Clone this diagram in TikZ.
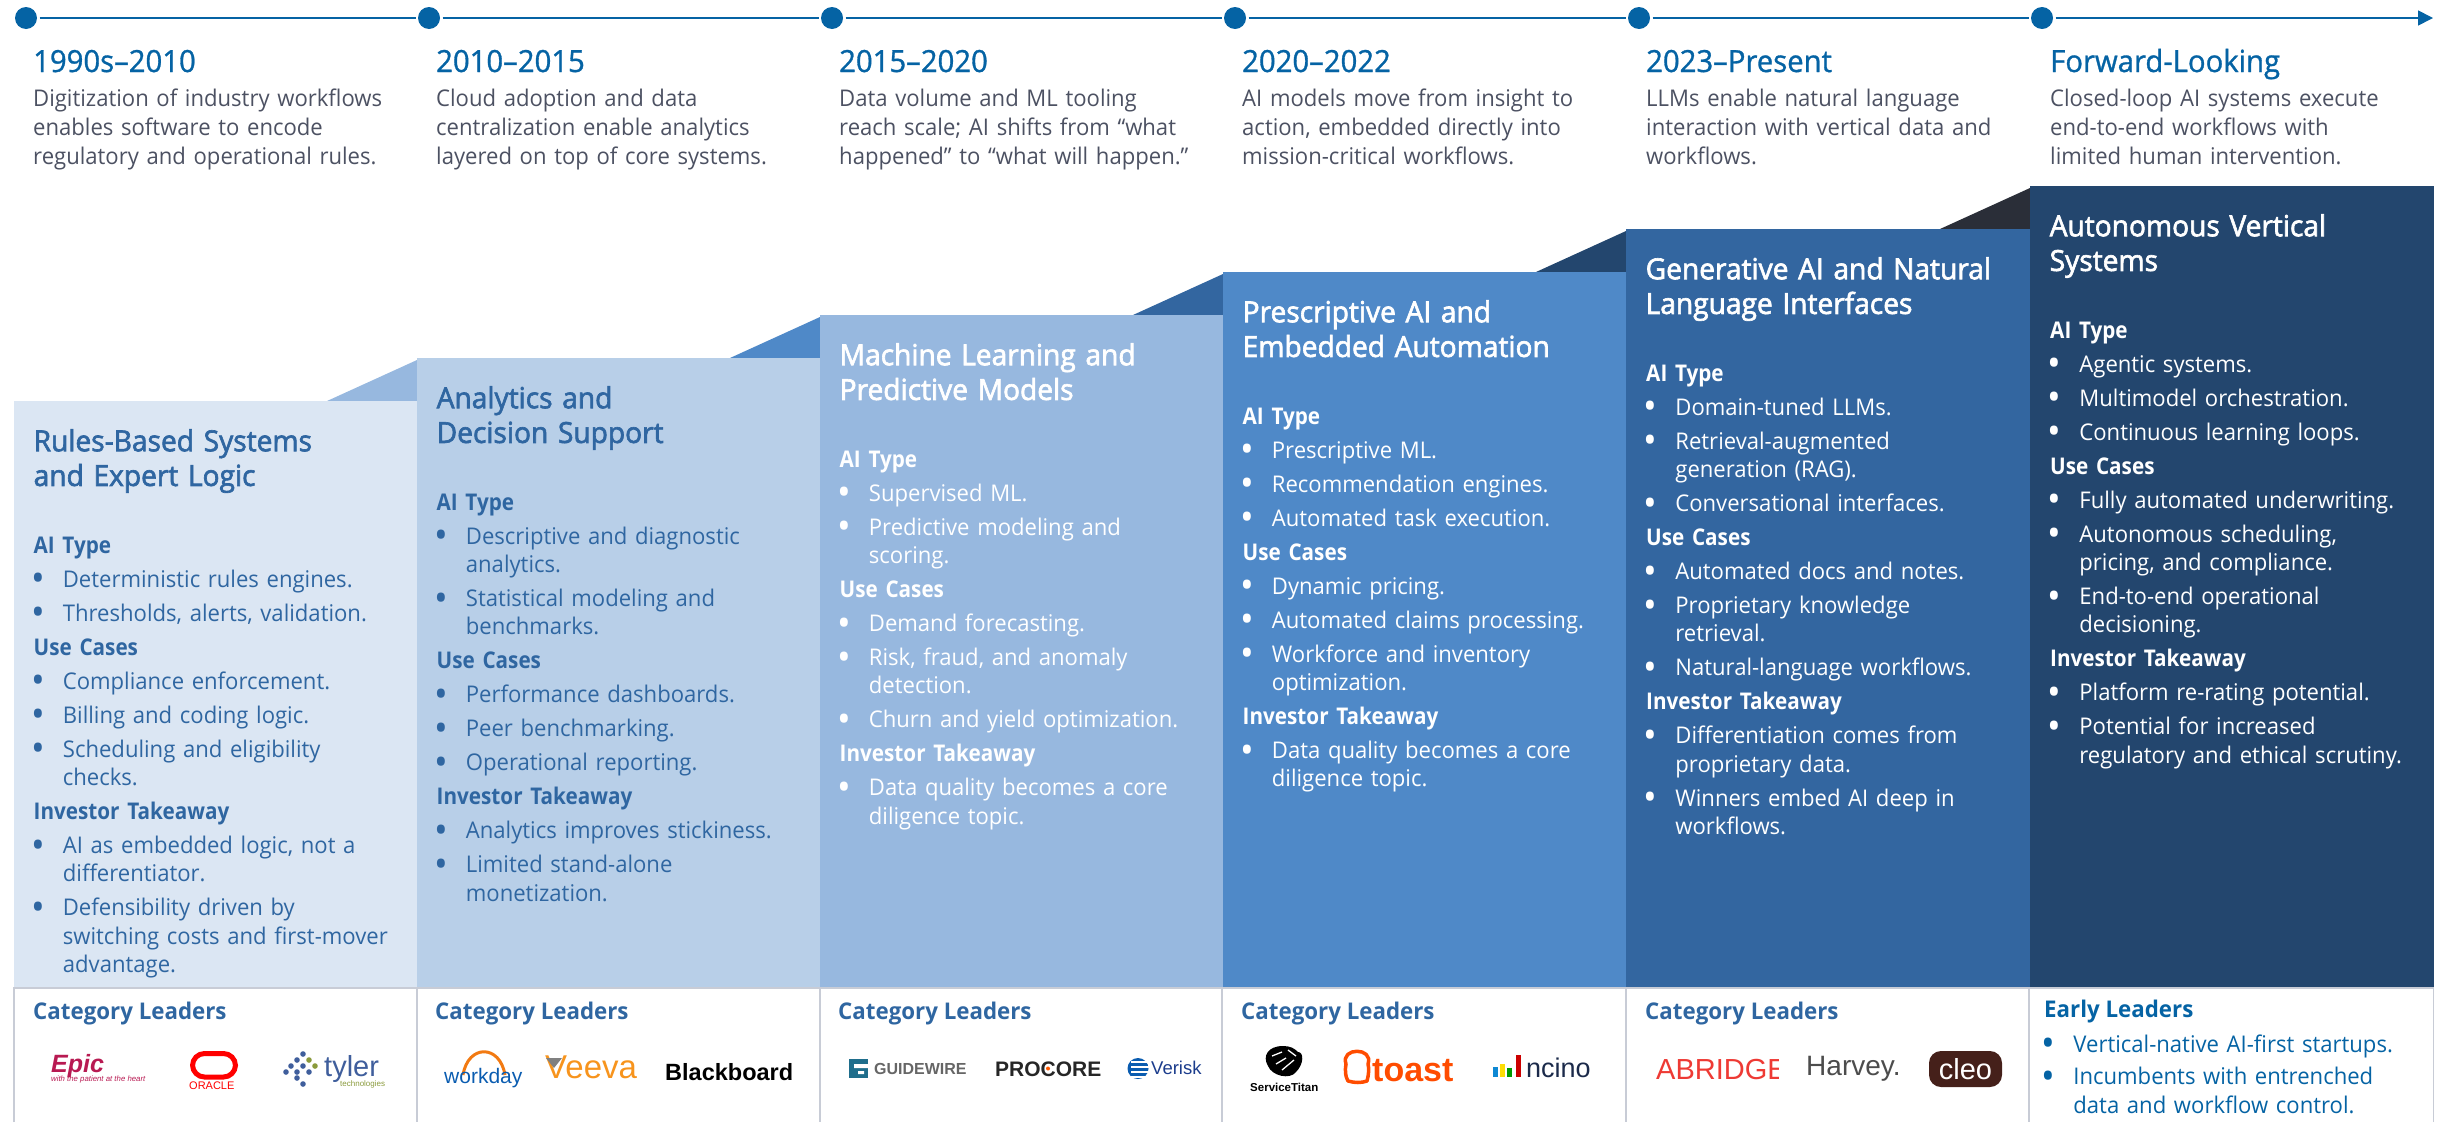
\documentclass[tikz,border=0pt]{standalone}
\usepackage{fontspec}
\usetikzlibrary{arrows.meta}
\setmainfont{Open Sans}[FakeStretch=0.96]
\newfontfamily\semif{Open Sans}[FakeStretch=0.9]
\newfontfamily\semig{Open Sans}[FakeStretch=0.97]
\newfontfamily\titlef{Open Sans}[FakeStretch=0.97,FakeBold=2.2]
\newfontfamily\periodf{Open Sans}[FakeStretch=0.96,FakeBold=1]
\newcommand\semi{\semif\bfseries}
\newfontfamily\lsans{Liberation Sans}
\definecolor{tl}{HTML}{0563A4}
\definecolor{grey}{HTML}{4C5162}
\definecolor{cA}{HTML}{DBE6F3}
\definecolor{cB}{HTML}{B8CFE8}
\definecolor{cC}{HTML}{97B8DF}
\definecolor{cD}{HTML}{4F89C8}
\definecolor{cE}{HTML}{3366A0}
\definecolor{cF}{HTML}{23466E}
\definecolor{cG}{HTML}{2A2E38}
\definecolor{ink}{HTML}{2F66A1}
\definecolor{rim}{HTML}{C8CCD6}
\definecolor{epicred}{HTML}{B81A52}
\definecolor{tylerblue}{HTML}{3F5E9C}
\definecolor{tylergreen}{HTML}{8A9A3C}
\definecolor{wdblue}{HTML}{0A5CB0}
\definecolor{wdorange}{HTML}{F27A12}
\definecolor{veeva}{HTML}{F7941D}
\definecolor{gwteal}{HTML}{1F6E8C}
\definecolor{veriskblue}{HTML}{1B3C8C}
\definecolor{toastor}{HTML}{FF4C00}
\definecolor{ncinoink}{HTML}{1B2A4A}
\definecolor{abr}{HTML}{EE3A34}
\definecolor{cleobg}{HTML}{45201A}
\tikzset{
  dot/.style={circle,fill=tl,minimum size=22pt,inner sep=0pt,outer sep=2.5pt},
  tline/.style={draw=tl,line width=1.6pt},
  period/.style={anchor=base west,inner sep=0pt,text=tl,font=\fontsize{30.5}{34}\selectfont\periodf},
  blurb/.style={anchor=north west,inner sep=0pt,text=grey,align=left,text width=390pt,font=\fontsize{23}{29}\selectfont},
  coltitle/.style={anchor=north west,inner sep=0pt,align=left,text width=380pt,font=\fontsize{29}{34.7}\selectfont\titlef},
  colbody/.style={anchor=north west,inner sep=0pt,align=left,text width=380pt,font=\fontsize{23}{28.3}\selectfont},
  leaders/.style={anchor=base west,inner sep=0pt,text=ink,font=\fontsize{23}{28}\selectfont\semig\bfseries},
  logo/.style={anchor=base west,inner sep=0pt,font=\lsans},
  rimline/.style={draw=rim,line width=1.5pt},
}
\newcommand\firstline{\rule{0pt}{20pt}}
\newcommand\hdr[1]{\par{\semi #1}\par}
\newcommand\blt{\raisebox{-4.5pt}{\fontsize{38}{0}\selectfont\hspace{-2.5pt}•}}
\newcommand\itm[1]{\par\noindent\makebox[29.2pt][l]{\blt}\parbox[t]{345pt}{\raggedright #1\rule[-6.2pt]{0pt}{0pt}}\par\prevdepth=6.2pt\relax}
\newcommand\period[5]{%
  \node[period] (#1) at (#2,72) {#3};
  \node[blurb] (#1b) at (#2,86) {\firstline #4\\#5};}
\newcommand\stepcol[8]{% name,left,right,top,triangle colour,fill,text colour,title
  \fill[#5] (#3-90,#4) -- (#3,#4-41) -- (#3,#4) -- cycle;
  \fill[#6] (#2,#4) rectangle (#3,987);
  \node[coltitle,text=#7] (#1t) at (#2+19.5,#4+28) {\firstline #8};}
\begin{document}
\begin{tikzpicture}[x=1pt,y=-1pt]
\useasboundingbox (0,0) rectangle (2447,1122);
% ---- timeline
\node[dot] (d1) at (26,18) {};
\node[dot] (d2) at (429,18) {};
\node[dot] (d3) at (832,18) {};
\node[dot] (d4) at (1235,18) {};
\node[dot] (d5) at (1639,18) {};
\node[dot] (d6) at (2042,18) {};
\coordinate (tip) at (2433,18);
\draw[tline] (d1) -- (d2);
\draw[tline] (d2) -- (d3);
\draw[tline] (d3) -- (d4);
\draw[tline] (d4) -- (d5);
\draw[tline] (d5) -- (d6);
\draw[tline,-{Triangle[length=15pt,width=15pt]},tl] (d6) -- (tip);
% ---- period heads
\period{p1}{33}{1990s–2010}{Digitization of industry workflows\\enables software to encode}{regulatory and operational rules.}
\period{p2}{436}{2010–2015}{Cloud adoption and data\\centralization enable analytics}{layered on top of core systems.}
\period{p3}{839}{2015–2020}{Data volume and ML tooling\\reach scale; AI shifts from “what}{happened” to “what will happen.”}
\period{p4}{1242}{2020–2022}{AI models move from insight to\\action, embedded directly into}{mission-critical workflows.}
\period{p5}{1646}{2023–Present}{LLMs enable natural language\\interaction with vertical data and}{workflows.}
\period{p6}{2050}{Forward-Looking}{Closed-loop AI systems execute\\end-to-end workflows with}{limited human intervention.}
% ---- step columns
\stepcol{c1}{14}{417}{401}{cC}{cA}{ink}{Rules-Based Systems\\and Expert Logic}
\stepcol{c2}{417}{820}{358}{cD}{cB}{ink}{Analytics and\\Decision Support}
\stepcol{c3}{820}{1223}{315}{cE}{cC}{white}{Machine Learning and\\Predictive Models}
\stepcol{c4}{1223}{1626}{272}{cF}{cD}{white}{Prescriptive AI and\\Embedded Automation}
\stepcol{c5}{1626}{2030}{229}{cG}{cE}{white}{Generative AI and Natural\\Language Interfaces}
\fill[cF] (2030,186) rectangle (2434,987);
\node[coltitle,text=white] (c6t) at (2049.5,214) {\firstline Autonomous Vertical\\Systems};
% ---- column bodies
\node[colbody,text=ink] (c1b) at (33.5,533) {\parskip=5.7pt\parindent=0pt\firstline{\semi AI Type}\par
\itm{Deterministic rules engines.}\itm{Thresholds, alerts, validation.}
\hdr{Use Cases}
\itm{Compliance enforcement.}\itm{Billing and coding logic.}\itm{Scheduling and eligibility\\checks.}
\hdr{Investor Takeaway}
\itm{AI as embedded logic, not a\\differentiator.}\itm{Defensibility driven by\\switching costs and first-mover\\advantage.}};
\node[colbody,text=ink] (c2b) at (436.5,490) {\parskip=5.7pt\parindent=0pt\firstline{\semi AI Type}\par
\itm{Descriptive and diagnostic\\analytics.}\itm{Statistical modeling and\\benchmarks.}
\hdr{Use Cases}
\itm{Performance dashboards.}\itm{Peer benchmarking.}\itm{Operational reporting.}
\hdr{Investor Takeaway}
\itm{Analytics improves stickiness.}\itm{Limited stand-alone\\monetization.}};
\node[colbody,text=white] (c3b) at (839.5,447) {\parskip=5.7pt\parindent=0pt\firstline{\semi AI Type}\par
\itm{Supervised ML.}\itm{Predictive modeling and\\scoring.}
\hdr{Use Cases}
\itm{Demand forecasting.}\itm{Risk, fraud, and anomaly\\detection.}\itm{Churn and yield optimization.}
\hdr{Investor Takeaway}
\itm{Data quality becomes a core\\diligence topic.}};
\node[colbody,text=white] (c4b) at (1242.5,404) {\parskip=5.7pt\parindent=0pt\firstline{\semi AI Type}\par
\itm{Prescriptive ML.}\itm{Recommendation engines.}\itm{Automated task execution.}
\hdr{Use Cases}
\itm{Dynamic pricing.}\itm{Automated claims processing.}\itm{Workforce and inventory\\optimization.}
\hdr{Investor Takeaway}
\itm{Data quality becomes a core\\diligence topic.}};
\node[colbody,text=white] (c5b) at (1646,361) {\parskip=5.7pt\parindent=0pt\firstline{\semi AI Type}\par
\itm{Domain-tuned LLMs.}\itm{Retrieval-augmented\\generation (RAG).}\itm{Conversational interfaces.}
\hdr{Use Cases}
\itm{Automated docs and notes.}\itm{Proprietary knowledge\\retrieval.}\itm{Natural-language workflows.}
\hdr{Investor Takeaway}
\itm{Differentiation comes from\\proprietary data.}\itm{Winners embed AI deep in\\workflows.}};
\node[colbody,text=white] (c6b) at (2050,318) {\parskip=5.7pt\parindent=0pt\firstline{\semi AI Type}\par
\itm{Agentic systems.}\itm{Multimodel orchestration.}\itm{Continuous learning loops.}
\hdr{Use Cases}
\itm{Fully automated underwriting.}\itm{Autonomous scheduling,\\pricing, and compliance.}\itm{End-to-end operational\\decisioning.}
\hdr{Investor Takeaway}
\itm{Platform re-rating potential.}\itm{Potential for increased\\regulatory and ethical scrutiny.}};
% ---- bottom panel
\draw[rimline] (14,1122) -- (14,988) -- (2433.5,988) -- (2433.5,1122);
\foreach \xx in {417,820,1222,1626,2029} \draw[rimline] (\xx,988) -- (\xx,1122);
\node[leaders] (l1) at (33,1019) {Category Leaders};
\node[leaders] (l2) at (435,1019) {Category Leaders};
\node[leaders] (l3) at (838,1019) {Category Leaders};
\node[leaders] (l4) at (1241,1019) {Category Leaders};
\node[leaders] (l5) at (1645,1019) {Category Leaders};
\node[leaders,text=tl] (l6) at (2044,1017) {Early Leaders};
\node[colbody,text=tl,text width=380pt] (l6b) at (2044,1032) {\parskip=4.3pt\parindent=0pt\firstline\makebox[29.2pt][l]{\blt}Vertical-native AI-first startups.\par
\itm{Incumbents with entrenched\\data and workflow control.}};
% ---- logos: column 1
\node[logo,text=epicred,font=\lsans\bfseries\itshape\fontsize{25}{25}\selectfont] (epic) at (51,1072) {Epic};
\node[logo,text=epicred,font=\lsans\itshape\fontsize{7.8}{10}\selectfont] (epict) at (51,1081) {with the patient at the heart};
\draw[red,line width=5pt,rounded corners=12pt] (192.5,1053.5) rectangle (235.5,1077);
\node[logo,text=red,font=\lsans\fontsize{11}{11}\selectfont] (oracle) at (189,1089) {ORACLE};
\foreach \dx/\dy in {303/1054,297/1060,291/1066,303/1066,286/1072,297/1072,309/1072,297/1078,303/1084}
  \fill[tylerblue] (\dx,\dy) circle (2.8pt);
\fill[tylergreen] (309,1060) circle (2.8pt) (315,1066) circle (2.8pt);
\node[logo,text=tylerblue,font=\lsans\fontsize{29}{30}\selectfont] (tyler) at (324,1076) {tyler};
\node[logo,text=tylergreen,font=\lsans\fontsize{8}{9}\selectfont] (tylert) at (340,1086) {technologies};
% ---- logos: column 2
\draw[wdorange,line width=3pt] (463,1075) .. controls (468,1044) and (500,1044) .. (505,1075);
\node[logo,text=wdblue,font=\lsans\fontsize{21}{23}\selectfont] (workday) at (444,1083) {workday};
\node[logo,text=veeva,font=\lsans\fontsize{33}{33}\selectfont] (veeva) at (545,1078) {Veeva};
\fill[gray] (546,1058) -- (562,1058) -- (554,1068) -- cycle;
\node[logo,text=black,font=\lsans\bfseries\fontsize{23.5}{24}\selectfont] (bb) at (665,1080) {Blackboard};
% ---- logos: column 3
\fill[gwteal] (849,1059) rectangle (868,1078);
\fill[white] (854,1064) rectangle (868,1068) (858,1071) rectangle (864,1074);
\node[logo,text=black!60,font=\lsans\bfseries\fontsize{16}{16}\selectfont] (gw) at (874,1074) {GUIDEWIRE};
\node[logo,text=black!85,font=\lsans\bfseries\fontsize{21}{21}\selectfont] (procore) at (995,1076) {PROCORE};
\fill[orange!70!red] (1048,1068.5) circle (2pt);
\fill[wdblue] (1138,1068.5) circle (10.5pt);
\foreach \yy in {1062,1067,1072,1077} \draw[white,line width=1.3pt] (1131,\yy) -- (1150,\yy);
\node[logo,text=veriskblue,font=\lsans\fontsize{18.5}{21}\selectfont] (verisk) at (1151,1074) {Verisk};
% ---- logos: column 4
\fill[black] (1283,1046) .. controls (1268,1046) and (1262,1056) .. (1268,1066) .. controls (1272,1076) and (1290,1080) .. (1296,1072) .. controls (1304,1064) and (1304,1052) .. (1298,1052) .. controls (1294,1048) and (1290,1046) .. (1283,1046) -- cycle;
\draw[white,line width=1.3pt] (1272,1056) -- (1282,1052) (1276,1064) -- (1286,1058) (1282,1070) -- (1294,1060) (1288,1050) -- (1296,1056);
\node[logo,text=black,font=\lsans\bfseries\fontsize{11.5}{14}\selectfont] (st) at (1250,1091) {ServiceTitan};
\draw[toastor,line width=3.5pt,line join=round] (1348,1081) .. controls (1355,1083) and (1361,1083) .. (1367,1081) .. controls (1369,1074) and (1369,1068) .. (1368,1064) .. controls (1374,1047) and (1340,1047) .. (1346,1064) .. controls (1345,1070) and (1345,1076) .. (1348,1081) -- cycle;
\node[logo,text=toastor,font=\lsans\bfseries\fontsize{34}{34}\selectfont] (toast) at (1372,1081) {toast};
\fill[cyan!70!blue] (1493,1067) rectangle (1498,1077);
\fill[yellow!80!orange] (1500,1064) rectangle (1505,1077);
\fill[green!60!black] (1507,1068) rectangle (1512,1077);
\fill[red!80!black] (1516,1055) rectangle (1521,1077);
\node[logo,text=ncinoink,font=\lsans\fontsize{27}{27}\selectfont] (ncino) at (1526,1077) {ncino};
% ---- logos: column 5
\begin{scope}
\clip (1650,1040) rectangle (1778,1100);
\node[logo,text=abr,font=\lsans\fontsize{29}{29}\selectfont] (abridge) at (1656,1079) {ABRIDGE};
\end{scope}
\node[logo,text=black!70,font=\lsans\fontsize{28}{28}\selectfont] (harvey) at (1806,1075) {Harvey.};
\node[fill=cleobg,rounded corners=12pt,minimum width=73pt,minimum height=36pt,inner sep=0pt,text=white,font=\lsans\fontsize{29}{29}\selectfont] (cleo) at (1965.5,1069) {cleo};
\end{tikzpicture}
\end{document}
